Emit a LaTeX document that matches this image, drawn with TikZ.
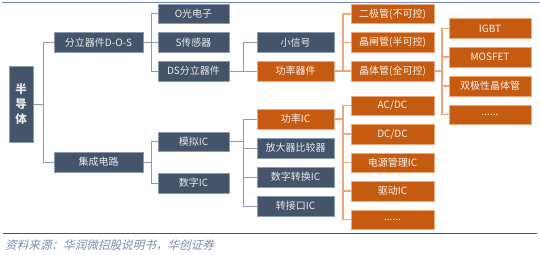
\documentclass[tikz,border=0pt]{standalone}
\usepackage{fontspec}
\setmainfont{Noto Sans CJK SC}
\newfontfamily\srcfont[FakeSlant=0.25]{Noto Sans CJK SC}
\definecolor{dk}{HTML}{44546A}
\definecolor{dkline}{HTML}{8C9AB0}
\definecolor{og}{HTML}{C55A11}
\definecolor{ogline}{HTML}{EDA77A}
\definecolor{rule}{HTML}{2F5597}
\definecolor{srccol}{HTML}{7A8CAA}
\tikzset{
  dkbox/.style={rectangle, fill=dk, draw=dkline, line width=0.5pt, text=white!92!black, font=\fontsize{10}{12}\selectfont, inner sep=0pt, minimum height=19.5pt},
  ogbox/.style={rectangle, fill=og, draw=ogline, line width=0.5pt, text=white!95!og, font=\fontsize{10}{12}\selectfont, inner sep=0pt, minimum height=19.5pt},
  w1/.style={minimum width=89pt},
  w2/.style={minimum width=71pt},
  w3/.style={minimum width=77pt},
  w4/.style={minimum width=83pt},
  w5/.style={minimum width=82pt},
  dkc/.style={draw=dkline, line width=1pt},
  ogc/.style={draw=ogline, line width=1.1pt},
}
\begin{document}
\begin{tikzpicture}[x=1pt,y=-1pt]
\useasboundingbox (0,0) rectangle (540,254);
\draw[rule!70, line width=0.8pt] (2,2.5) -- (540,2.5);
\draw[rule, line width=1pt] (3,233) -- (537,233);
\node[anchor=west, text=srccol, font=\srcfont\fontsize{11.6}{13}\selectfont, inner sep=0pt] (src) at (5,245) {资料来源：华润微招股说明书，华创证券};

% root
\node[dkbox, minimum width=24pt, minimum height=76pt, font=\bfseries\fontsize{11.5}{15}\selectfont, align=center] (root) at (21,104) {半\\导\\体};
% level 1
\node[dkbox, w1] (fl) at (98.5,42.5) {分立器件D-O-S};
\node[dkbox, w1] (ic) at (98.5,162) {集成电路};
% level 2
\node[dkbox, w2] (o) at (193.5,14) {O光电子};
\node[dkbox, w2] (s) at (193.5,42.5) {S传感器};
\node[dkbox, w2] (ds) at (193.5,71) {DS分立器件};
\node[dkbox, w2] (mn) at (193.5,141.5) {模拟IC};
\node[dkbox, w2] (sz) at (193.5,183) {数字IC};
% level 3
\node[dkbox, w3] (xx) at (295.5,42.5) {小信号};
\node[ogbox, w3] (gl) at (295.5,71) {功率器件};
\node[ogbox, w3] (glic) at (295.5,119) {功率IC};
\node[dkbox, w3] (fd) at (295.5,148) {放大器比较器};
\node[dkbox, w3] (szzh) at (295.5,177) {数字转换IC};
\node[dkbox, w3] (zj) at (295.5,206) {转接口IC};
% level 4
\node[ogbox, w4] (ej) at (392.5,14) {二极管(不可控)};
\node[ogbox, w4] (jz) at (392.5,42.5) {晶闸管(半可控)};
\node[ogbox, w4] (jt) at (392.5,71) {晶体管(全可控)};
\node[ogbox, w4] (acdc) at (392.5,105.5) {AC/DC};
\node[ogbox, w4] (dcdc) at (392.5,134) {DC/DC};
\node[ogbox, w4] (dy) at (392.5,162.5) {电源管理IC};
\node[ogbox, w4] (qd) at (392.5,191) {驱动IC};
\node[ogbox, w4] (dots1) at (392.5,219.5) {......};
% level 5
\node[ogbox, w5] (igbt) at (490,28.5) {IGBT};
\node[ogbox, w5] (mos) at (490,57) {MOSFET};
\node[ogbox, w5] (sj) at (490,86) {双极性晶体管};
\node[ogbox, w5] (dots2) at (490,114.5) {......};

% connectors
\coordinate (j0) at (43,104);
\draw[dkc] (root.east) -- (j0);
\draw[dkc] (j0) |- (fl.west);
\draw[dkc] (j0) |- (ic.west);

\coordinate (j1) at (151,42.5);
\draw[dkc] (fl.east) -- (j1);
\draw[dkc] (j1) |- (o.west);
\draw[dkc] (j1) |- (s.west);
\draw[dkc] (j1) |- (ds.west);

\coordinate (j2) at (151,162);
\draw[dkc] (ic.east) -- (j2);
\draw[dkc] (j2) |- (mn.west);
\draw[dkc] (j2) |- (sz.west);

\coordinate (j3) at (243,71);
\draw[dkc] (ds.east) -- (j3);
\draw[dkc] (j3) |- (xx.west);
\draw[dkc] (j3) -- (gl.west);

\coordinate (j4) at (243,141.5);
\draw[dkc] (mn.east) -- (j4);
\draw[dkc] (j4) |- (glic.west);
\draw[dkc] (j4) |- (fd.west);
\draw[dkc] (j4) |- (szzh.west);
\draw[dkc] (j4) |- (zj.west);

\coordinate (j5) at (343,71);
\draw[ogc] (gl.east) -- (j5);
\draw[ogc] (j5) |- (ej.west);
\draw[ogc] (j5) |- (jz.west);
\draw[ogc] (j5) -- (jt.west);

\coordinate (j6) at (343,119);
\draw[ogc] (glic.east) -- (j6);
\draw[ogc] (j6) |- (acdc.west);
\draw[ogc] (j6) |- (dcdc.west);
\draw[ogc] (j6) |- (dy.west);
\draw[ogc] (j6) |- (qd.west);
\draw[ogc] (j6) |- (dots1.west);

\coordinate (j7) at (442,71);
\draw[ogc] (jt.east) -- (j7);
\draw[ogc] (j7) |- (igbt.west);
\draw[ogc] (j7) |- (mos.west);
\draw[ogc] (j7) |- (sj.west);
\draw[ogc] (j7) |- (dots2.west);
\end{tikzpicture}
\end{document}
